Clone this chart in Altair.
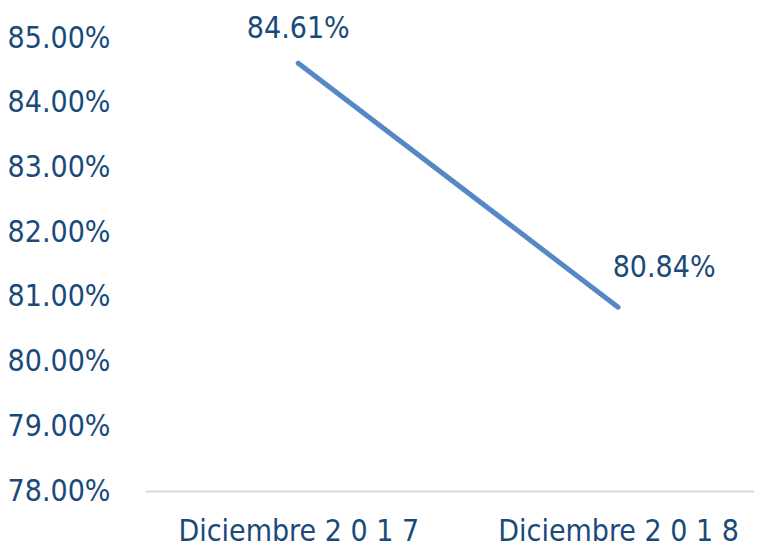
import altair as alt
import pandas as pd

categories = ["Diciembre 2 0 1 7", "Diciembre 2 0 1 8"]
values = [0.8461, 0.8084]
y_ticks = [0.78, 0.79, 0.80, 0.81, 0.82, 0.83, 0.84, 0.85]

df = pd.DataFrame({"cat": categories, "val": values})

FONT = "DejaVu Sans Condensed"
TXT = "#1a4a7a"
LINE = "#5588c4"
FS = 30

x = alt.X("cat:N", sort=categories, title=None,
          scale=alt.Scale(type="point", padding=0.452, align=0.53),
          axis=alt.Axis(labelAngle=0, ticks=False, domainColor="#d9d9d9", domainWidth=2,
                        labelFont=FONT, labelFontSize=FS, labelColor=TXT, labelPadding=25,
                        labelLimit=0, labelOverlap=False))
y = alt.Y("val:Q", title=None,
          scale=alt.Scale(domain=[0.78, 0.85], nice=False, zero=False),
          axis=alt.Axis(values=y_ticks, format=".2%", domain=False, ticks=False, grid=False,
                        labelFont=FONT, labelFontSize=FS, labelColor=TXT, labelPadding=35,
                        labelLimit=0))

base = alt.Chart(df)
line = base.mark_line(color=LINE, strokeWidth=5, strokeCap="round").encode(x=x, y=y)

lab1 = base.transform_filter(alt.datum.cat == categories[0]).mark_text(
    font=FONT, fontSize=FS, color=TXT, dy=-34).encode(
    x=alt.X("cat:N", sort=categories), y="val:Q", text=alt.Text("val:Q", format=".2%"))
lab2 = base.transform_filter(alt.datum.cat == categories[1]).mark_text(
    font=FONT, fontSize=FS, color=TXT, dx=46, dy=-39).encode(
    x=alt.X("cat:N", sort=categories), y="val:Q", text=alt.Text("val:Q", format=".2%"))

chart = alt.layer(line, lab1, lab2).properties(
    width=609, height=453,
    autosize=alt.AutoSizeParams(type="none"),
    padding={"left": 137, "top": 30, "right": 0, "bottom": 58},
).configure_view(stroke=None)

chart.save("out.html", embed_options={"renderer": "svg", "actions": False})
